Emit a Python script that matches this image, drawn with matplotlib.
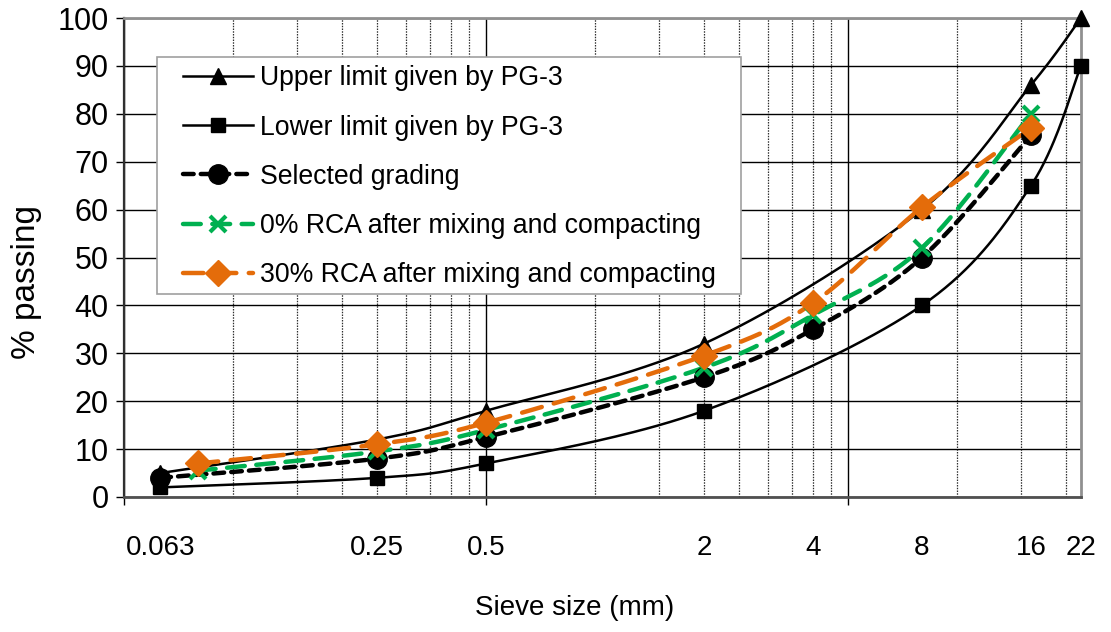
import numpy as np
import matplotlib
matplotlib.use('Agg')
import matplotlib.pyplot as plt
from matplotlib.lines import Line2D
from matplotlib.patches import Rectangle
from matplotlib.ticker import FixedLocator, NullFormatter

plt.rcParams['font.family'] = ['Liberation Sans', 'DejaVu Sans']

# ---------------- data ----------------
sieve_limits = [0.063, 0.25, 0.5, 2, 8, 16, 22]
upper_limit = [5, 12, 18, 32, 60, 86, 100]
lower_limit = [2, 4, 7, 18, 40, 65, 90]

sieve_selected = [0.063, 0.25, 0.5, 2, 4, 8, 16]
selected_grading = [4, 8, 12.5, 25, 35, 50, 75.5]

sieve_rca = [0.08, 0.25, 0.5, 2, 4, 8, 16]
rca_0 = [5.5, 9.5, 14, 27, 38, 52, 80]
rca_30 = [7, 11, 15.5, 29.5, 40.5, 60.5, 77]

tick_sizes = [0.063, 0.25, 0.5, 2, 4, 8, 16, 22]
tick_labels = ['0.063', '0.25', '0.5', '2', '4', '8', '16', '22']

legend_labels = ['Upper limit given by PG-3', 'Lower limit given by PG-3',
                 'Selected grading', '0% RCA after mixing and compacting',
                 '30% RCA after mixing and compacting']


def smooth_path(xs, ys, n=40):
    """Excel-like smoothed line (Catmull-Rom Bezier) in log-x space, for line rendering only."""
    P = np.column_stack([np.log10(np.asarray(xs, float)), np.asarray(ys, float)])
    E = np.vstack([P[0], P, P[-1]])
    t = np.linspace(0, 1, n)[:, None]
    segs = []
    for i in range(len(P) - 1):
        p0, p1, p2, p3 = E[i], E[i + 1], E[i + 2], E[i + 3]
        c1 = p1 + (p2 - p0) / 6.0
        c2 = p2 - (p3 - p1) / 6.0
        seg = (1 - t) ** 3 * p1 + 3 * (1 - t) ** 2 * t * c1 + 3 * (1 - t) * t ** 2 * c2 + t ** 3 * p2
        segs.append(seg if i == 0 else seg[1:])
    S = np.vstack(segs)
    return 10 ** S[:, 0], S[:, 1]


fig = plt.figure(figsize=(11.11, 6.32), dpi=100)
ax = fig.add_axes([124 / 1111, 135 / 632, 957 / 1111, 479 / 632])

ax.set_xscale('log')
ax.set_xlim(0.05, 22)
ax.set_ylim(0, 100)

# grid
ax.xaxis.set_major_locator(FixedLocator([0.05, 0.5, 5]))
ax.xaxis.set_minor_locator(FixedLocator([0.1, 0.15, 0.2, 0.25, 0.3, 0.35, 0.4, 0.45,
                                         1, 1.5, 2, 2.5, 3, 3.5, 4, 4.5, 10, 15, 20]))
ax.xaxis.set_major_formatter(NullFormatter())
ax.xaxis.set_minor_formatter(NullFormatter())
ax.set_yticks(np.arange(0, 101, 10))
ax.grid(True, which='major', axis='both', color='black', lw=1.0, zorder=0)
ax.grid(True, which='minor', axis='x', color='#303030', lw=0.9, ls=(0, (1.2, 1.0)), zorder=0)
ax.set_axisbelow(True)

ax.tick_params(axis='x', which='major', direction='out', length=6, width=1, color='black')
ax.tick_params(axis='x', which='minor', length=0)
ax.tick_params(axis='y', direction='out', length=6, width=1, labelsize=22, pad=5, color='black')

for s in ['top', 'right']:
    ax.spines[s].set_color('#909090')
    ax.spines[s].set_linewidth(2)
ax.spines['left'].set_color('#303030')
ax.spines['left'].set_linewidth(1.6)
ax.spines['bottom'].set_color('#505050')
ax.spines['bottom'].set_linewidth(2)

green = '#00b050'
orange = '#e46c0a'

styles = [
    dict(color='black', lw=1.8, ls='-', marker='^', ms=12, mfc='black', mec='black'),
    dict(color='black', lw=1.8, ls='-', marker='s', ms=10, mfc='black', mec='black'),
    dict(color='black', lw=3.2, ls=(0, (2.4, 1.6)), marker='o', ms=14, mfc='black', mec='black'),
    dict(color=green, lw=3.2, ls=(0, (4.0, 2.6)), marker='x', ms=11, mfc=green, mec=green, mew=3),
    dict(color=orange, lw=3.2, ls=(0, (4.6, 2.8)), marker='D', ms=13, mfc=orange, mec=orange),
]
series = [(sieve_limits, upper_limit), (sieve_limits, lower_limit),
          (sieve_selected, selected_grading), (sieve_rca, rca_0), (sieve_rca, rca_30)]

handles = []
for (xs, ys), st, lab in zip(series, styles, legend_labels):
    sx, sy = smooth_path(xs, ys)
    ax.plot(sx, sy, color=st['color'], lw=st['lw'], ls=st['ls'], dash_capstyle='round',
            zorder=3, clip_on=False)
    ax.plot(xs, ys, ls='none', marker=st['marker'], ms=st['ms'], mfc=st['mfc'], mec=st['mec'],
            mew=st.get('mew', 1), zorder=4, clip_on=False)
    handles.append(Line2D([], [], color=st['color'], lw=st['lw'], ls=st['ls'],
                          dash_capstyle='round', marker=st['marker'], ms=st['ms'],
                          mfc=st['mfc'], mec=st['mec'], mew=st.get('mew', 1)))

# legend box (drawn as a rectangle so horizontal/vertical padding can differ)
box = Rectangle((0.0345, 0.4238), 0.6102, 0.4948, transform=ax.transAxes,
                facecolor='white', edgecolor='#a0a0a0', lw=1.2, zorder=5)
ax.add_patch(box)
leg = ax.legend(handles, legend_labels, loc='upper left', bbox_to_anchor=(0.0617, 0.901),
                borderaxespad=0, borderpad=0, fontsize=19.2, frameon=False,
                handlelength=2.62, handletextpad=0.26, labelspacing=0.87)
leg.set_zorder(6)

# sieve size labels
for xv, lab in zip(tick_sizes, tick_labels):
    ax.text(xv, -0.106, lab, transform=ax.get_xaxis_transform(), ha='center', va='center',
            fontsize=20)

ax.set_xlabel('Sieve size (mm)', fontsize=20)
ax.xaxis.set_label_coords(0.471, -0.205)
ax.set_ylabel('% passing', fontsize=24)
ax.yaxis.set_label_coords(-0.0857, 0.448)

fig.savefig('out.png', dpi=100)
